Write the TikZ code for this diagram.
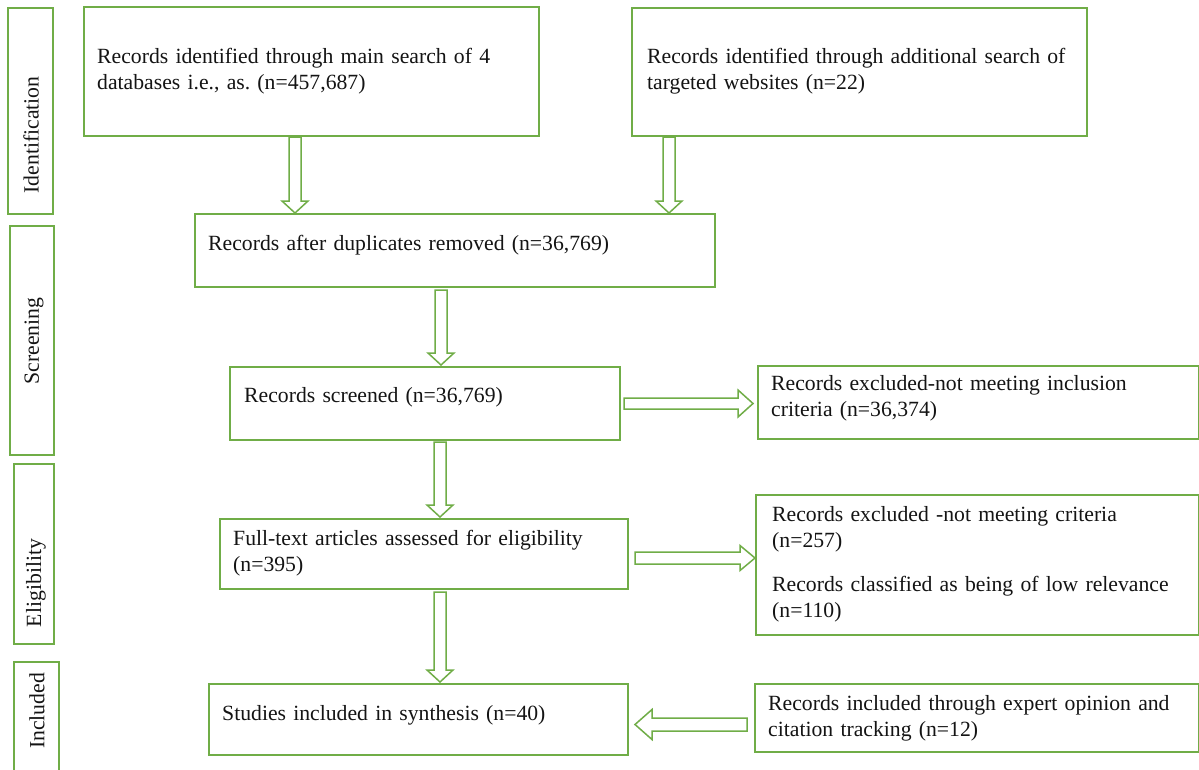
\documentclass[tikz,border=0pt]{standalone}
\usepackage{fontspec}
\setmainfont{Liberation Serif}
\usetikzlibrary{calc}
\definecolor{frame}{RGB}{112,173,71}
\definecolor{ink}{RGB}{20,20,20}
\frenchspacing

% hollow block arrow: start, end, shaft half-width, head half-width, head length
\newcommand{\fatarrow}[5]{%
  \coordinate (hb) at ($(#2)!#5!(#1)$);
  \draw[fat] ($(#1)!#3!90:(#2)$) -- ($(hb)!#3!90:(#2)$) -- ($(hb)!#4!90:(#2)$)
    -- (#2) -- ($(hb)!#4!-90:(#2)$) -- ($(hb)!#3!-90:(#2)$) -- ($(#1)!#3!-90:(#2)$) -- cycle;}

% framed box by top-left corner and size
\newcommand{\boxat}[5]{\node[box, minimum width=#4pt, minimum height=#5pt] (#1) at (#2,#3) {};}

\begin{document}
\begin{tikzpicture}[x=1pt,y=-1pt,
  box/.style={draw=frame, line width=2pt, rectangle, inner sep=0pt, anchor=north west},
  txt/.style={anchor=base west, inner sep=0pt, align=left, text width=440pt,
    font=\fontsize{21.7}{26.5}\selectfont, text=ink},
  side/.style={rotate=90, inner sep=0pt, font=\fontsize{21.7}{26.5}\selectfont, text=ink},
  fat/.style={draw=frame, line width=1.5pt, fill=white, line join=miter}]

\useasboundingbox (0,0) rectangle (1199,769);
\fill[white] (0,0) rectangle (1199,769);

% stage boxes on the left
\boxat{Id}{7}{7}{45}{206}
\boxat{Scr}{9}{225}{44}{229}
\boxat{Elig}{13}{463}{40}{180}
\boxat{Incl}{13}{661}{45}{119}
\node[side] (lId)   at ($(Id.center)+(0.5,24)$)   {Identification};
\node[side] (lScr)  at ($(Scr.center)+(2,0.5)$)   {Screening};
\node[side] (lElig) at ($(Elig.center)+(2,29)$)   {Eligibility};
\node[side] (lIncl) at ($(Incl.center)+(0.5,-10.5)$) {Included};

% flow boxes
\boxat{A}{83}{6}{455}{129}
\boxat{B}{631}{7}{455}{128}
\boxat{C}{194}{213}{520}{73}
\boxat{D}{229}{366}{390}{73}
\boxat{E}{757}{365}{441}{73}
\boxat{F}{219}{518}{408}{70}
\boxat{G}{755}{494}{443}{140}
\boxat{H}{208}{683}{419}{71}
\boxat{I}{754}{683}{444}{68}

% box texts
\node[txt] (tA) at ($(A.north west)+(14,57)$) {Records identified through main search of 4\\databases i.e., as. (n=457,687)};
\node[txt] (tB) at ($(B.north west)+(16,56)$) {Records identified through additional search of\\targeted websites (n=22)};
\node[txt] (tC) at ($(C.north west)+(14,37)$) {Records after duplicates removed (n=36,769)};
\node[txt] (tD) at ($(D.north west)+(15,36)$) {Records screened (n=36,769)};
\node[txt] (tE) at ($(E.north west)+(14,25)$) {Records excluded-not meeting inclusion\\criteria (n=36,374)};
\node[txt] (tF) at ($(F.north west)+(14,27)$) {Full-text articles assessed for eligibility\\(n=395)};
\node[txt] (tG) at ($(G.north west)+(17,27)$) {Records excluded -not meeting criteria\\(n=257)\\[17pt]Records classified as being of low relevance\\(n=110)};
\node[txt] (tH) at ($(H.north west)+(14,37)$) {Studies included in synthesis (n=40)};
\node[txt] (tI) at ($(I.north west)+(14,27)$) {Records included through expert opinion and\\citation tracking (n=12)};

% arrow columns
\coordinate (xa) at (295,0);
\coordinate (xb) at (669,0);
\coordinate (xc) at (441,0);
\coordinate (xd) at (440,0);

\coordinate (p1) at (A.south -| xa);
\coordinate (q1) at (C.north -| xa);
\fatarrow{p1}{q1}{6pt}{13pt}{12pt}

\coordinate (p2) at (B.south -| xb);
\coordinate (q2) at (C.north -| xb);
\fatarrow{p2}{q2}{6pt}{13pt}{12pt}

\coordinate (p3) at ($(C.south -| xc)+(0,2)$);
\coordinate (q3) at ($(D.north -| xc)+(0,-1)$);
\fatarrow{p3}{q3}{6pt}{13pt}{12pt}

\coordinate (p4) at ($(D.east)+(3,0)$);
\coordinate (q4) at ($(E.west |- D.east)+(-4,0)$);
\fatarrow{p4}{q4}{5.5pt}{13.5pt}{15pt}

\coordinate (p5) at ($(D.south -| xd)+(0,1)$);
\coordinate (q5) at ($(F.north -| xd)+(0,-1)$);
\fatarrow{p5}{q5}{6pt}{13pt}{12pt}

\coordinate (p6) at ($(F.east)+(6,4)$);
\coordinate (q6) at ($(G.west |- F.east)+(0,4)$);
\fatarrow{p6}{q6}{6pt}{12.5pt}{15pt}

\coordinate (p7) at ($(F.south -| xd)+(0,2)$);
\coordinate (q7) at ($(H.north -| xd)+(0,-1)$);
\fatarrow{p7}{q7}{6pt}{13pt}{12pt}

\coordinate (p8) at ($(I.west)+(-7,6.5)$);
\coordinate (q8) at ($(H.east |- I.west)+(6,6.5)$);
\fatarrow{p8}{q8}{6.5pt}{15pt}{17pt}
\end{tikzpicture}
\end{document}
